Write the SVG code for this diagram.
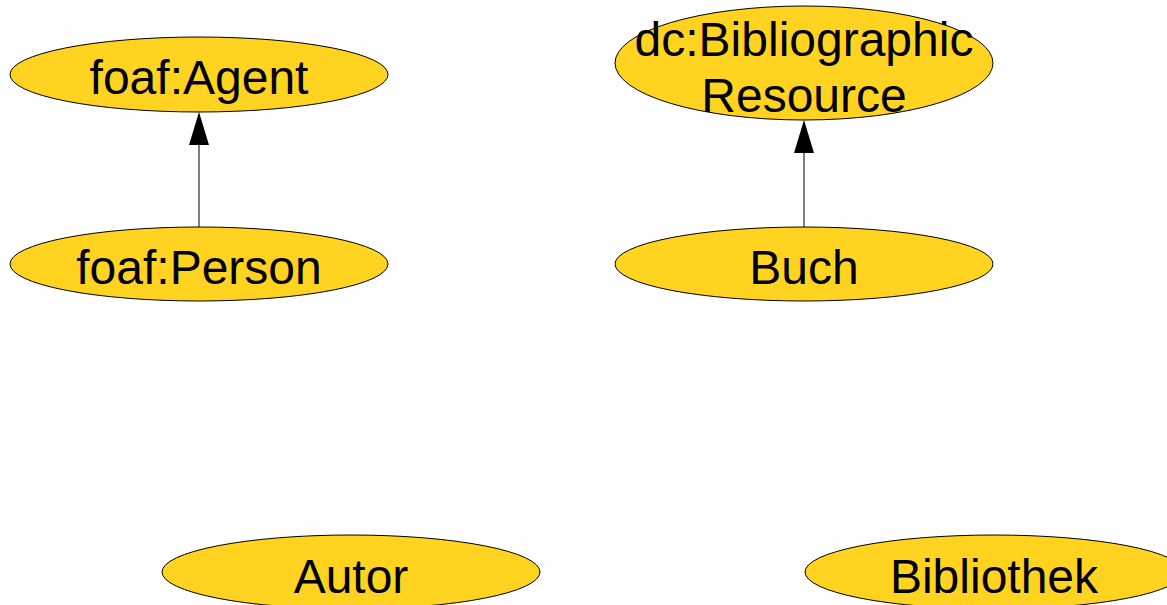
<svg xmlns="http://www.w3.org/2000/svg" width="1167" height="605" viewBox="0 0 1167 605">
<style>
.node ellipse{fill:#ffd320;stroke:#000;stroke-width:1}
.node text{font-family:"Liberation Sans",Arial,sans-serif;font-size:48px;fill:#000;text-anchor:middle}
.edge line{stroke:#000;stroke-width:1}
.edge polygon{fill:#000}
</style>
<g id="connectors" class="edge">
<line x1="199" y1="227" x2="199" y2="144"/>
<polygon points="199,112 189,145 209,145"/>
<line x1="804" y1="227" x2="804" y2="152"/>
<polygon points="804,120 794,153 814,153"/>
</g>
<g id="foaf-agent" class="node">
<ellipse cx="199" cy="74.5" rx="189" ry="37.5"/>
<text x="199" y="94">foaf:Agent</text>
</g>
<g id="foaf-person" class="node">
<ellipse cx="199" cy="264" rx="189" ry="37"/>
<text x="199" y="284">foaf:Person</text>
</g>
<g id="dc-bibliographic-resource" class="node">
<ellipse cx="804" cy="63" rx="189" ry="57"/>
<text x="804" y="56">dc:Bibliographic</text>
<text x="804" y="112">Resource</text>
</g>
<g id="buch" class="node">
<ellipse cx="804" cy="264" rx="189" ry="37"/>
<text x="804" y="284">Buch</text>
</g>
<g id="autor" class="node">
<ellipse cx="351" cy="572" rx="189" ry="37"/>
<text x="351" y="593">Autor</text>
</g>
<g id="bibliothek" class="node">
<ellipse cx="994" cy="572" rx="189" ry="37"/>
<text x="994" y="593">Bibliothek</text>
</g>
</svg>
